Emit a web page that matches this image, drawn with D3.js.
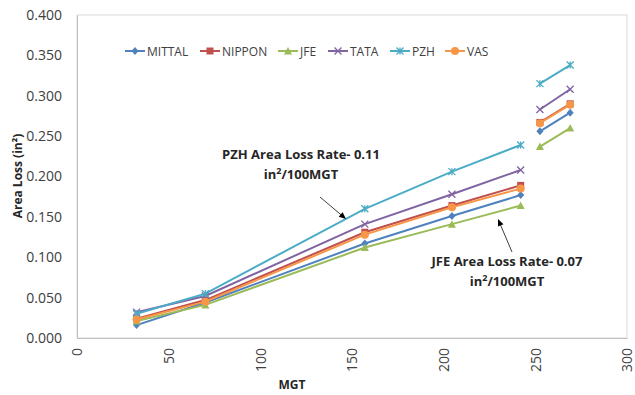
<!DOCTYPE html>
<html><head><meta charset="utf-8">
<script src="https://cdn.jsdelivr.net/npm/d3@7"></script>
<style>body{margin:0;background:#fff;}svg{display:block;font-family:"Open Sans",sans-serif;}</style>
</head><body><svg id="c" width="635" height="395"></svg>
<script>
const mgt = [32.5, 70, 157, 204.5, 242, 252.5, 269];
const breakAfter = 4;
const seriesNames = ["MITTAL","NIPPON","JFE","TATA","PZH","VAS"];
const mittal = [0.016, 0.044, 0.117, 0.151, 0.177, 0.256, 0.279];
const nippon = [0.024, 0.047, 0.131, 0.164, 0.189, 0.267, 0.290];
const jfe    = [0.021, 0.041, 0.112, 0.141, 0.164, 0.237, 0.260];
const tata   = [0.032, 0.052, 0.141, 0.178, 0.208, 0.283, 0.308];
const pzh    = [0.030, 0.055, 0.160, 0.206, 0.239, 0.315, 0.338];
const vas    = [0.023, 0.045, 0.128, 0.162, 0.185, 0.266, 0.289];
const xTicks = [0, 50, 100, 150, 200, 250, 300];
const yTicks = [0, 0.05, 0.10, 0.15, 0.20, 0.25, 0.30, 0.35, 0.40];

const values = [mittal, nippon, jfe, tata, pzh, vas];
const colors = ["#4F81BD","#C0504D","#9BBB59","#8064A2","#4BACC6","#F79646"];
const shapes = ["diamond","square","triangle","x","star","circle"];

const svg = d3.select("#c");
const L = 77, R = 627, T = 15, B = 338;
const x = d3.scaleLinear().domain([0, 300]).range([L, R]);
const y = d3.scaleLinear().domain([0, 0.4]).range([B, T]);

// plot frame
svg.append("rect").attr("x", L).attr("y", T).attr("width", R - L).attr("height", B - T)
  .attr("fill", "none").attr("stroke", "#d9d9d9").attr("stroke-width", 1);

// axes
const yAxis = svg.append("g").attr("transform", `translate(${L},0)`)
  .call(d3.axisLeft(y).tickValues(yTicks).tickFormat(d3.format(".3f")).tickSize(0).tickPadding(15));
yAxis.select(".domain").attr("stroke", "#bfbfbf");
yAxis.selectAll("text").attr("font-size", 14).attr("fill", "#404040").attr("font-family", "Open Sans");

const xAxis = svg.append("g").attr("transform", `translate(0,${B})`)
  .call(d3.axisBottom(x).tickValues(xTicks).tickFormat(d3.format("d")).tickSize(0));
xAxis.select(".domain").attr("stroke", "#bfbfbf");
xAxis.selectAll("text").attr("font-size", 14).attr("fill", "#404040").attr("font-family", "Open Sans")
  .attr("transform", "rotate(-90)").attr("text-anchor", "end").attr("x", -10).attr("y", 0).attr("dy", "0.35em");

// axis titles
svg.append("text").attr("transform", "translate(22,176) rotate(-90)").attr("text-anchor", "middle")
  .attr("font-size", 12).attr("font-weight", "bold").attr("fill", "#262626")
  .text("Area Loss (in²)");
svg.append("text").attr("x", 292).attr("y", 389).attr("text-anchor", "middle")
  .attr("font-size", 12).attr("font-weight", "bold").attr("fill", "#262626").text("MGT");

function marker(g, shape, color, cx, cy) {
  const s = 3.5;
  if (shape === "diamond") g.append("path").attr("d", `M${cx},${cy-s-0.5}L${cx+s},${cy}L${cx},${cy+s+0.5}L${cx-s},${cy}Z`).attr("fill", color);
  else if (shape === "square") g.append("rect").attr("x", cx-s).attr("y", cy-s).attr("width", 2*s).attr("height", 2*s).attr("fill", color);
  else if (shape === "triangle") g.append("path").attr("d", `M${cx},${cy-s-0.5}L${cx+s+0.5},${cy+s}L${cx-s-0.5},${cy+s}Z`).attr("fill", color);
  else if (shape === "x") g.append("path").attr("d", `M${cx-s},${cy-s}L${cx+s},${cy+s}M${cx-s},${cy+s}L${cx+s},${cy-s}`).attr("stroke", color).attr("stroke-width", 1.3).attr("fill", "none");
  else if (shape === "star") g.append("path").attr("d", `M${cx-s},${cy-s}L${cx+s},${cy+s}M${cx-s},${cy+s}L${cx+s},${cy-s}M${cx},${cy-s}L${cx},${cy+s}`).attr("stroke", color).attr("stroke-width", 1.3).attr("fill", "none");
  else if (shape === "circle") g.append("circle").attr("cx", cx).attr("cy", cy).attr("r", s+0.5).attr("fill", color);
}

const line = d3.line().x(d => x(d[0])).y(d => y(d[1]));
values.forEach((vals, i) => {
  const g = svg.append("g");
  const pts = mgt.map((m, j) => [m, vals[j]]);
  g.append("path").attr("d", line(pts.slice(0, breakAfter + 1))).attr("fill", "none").attr("stroke", colors[i]).attr("stroke-width", 2);
  g.append("path").attr("d", line(pts.slice(breakAfter + 1))).attr("fill", "none").attr("stroke", colors[i]).attr("stroke-width", 2);
  pts.forEach(p => marker(g, shapes[i], colors[i], x(p[0]), y(p[1])));
});

// legend
const legX = [125, 200, 278, 328, 390, 445];
seriesNames.forEach((n, i) => {
  const g = svg.append("g");
  g.append("line").attr("x1", legX[i]).attr("x2", legX[i] + 20).attr("y1", 51).attr("y2", 51)
    .attr("stroke", colors[i]).attr("stroke-width", 2);
  marker(g, shapes[i], colors[i], legX[i] + 10, 51);
  g.append("text").attr("x", legX[i] + 22).attr("y", 55.5).attr("font-size", 12).attr("fill", "#404040").text(n);
});

// annotations
function annot(cx, y1, l1, y2, ax1, ay1, ax2, ay2) {
  svg.append("text").attr("x", cx).attr("y", y1).attr("text-anchor", "middle").attr("font-size", 13)
    .attr("font-weight", "bold").attr("fill", "#262626").text(l1);
  const t = svg.append("text").attr("x", cx).attr("y", y2).attr("text-anchor", "middle").attr("font-size", 13)
    .attr("font-weight", "bold").attr("fill", "#262626");
  t.append("tspan").text("in");
  t.append("tspan").attr("dy", -5).attr("font-size", 9).text("2");
  t.append("tspan").attr("dy", 5).text("/100MGT");
  const ang = Math.atan2(ay2 - ay1, ax2 - ax1);
  svg.append("line").attr("x1", ax1).attr("y1", ay1).attr("x2", ax2 - 5 * Math.cos(ang)).attr("y2", ay2 - 5 * Math.sin(ang))
    .attr("stroke", "#404040").attr("stroke-width", 1);
  const hl = 7, hw = 3;
  const bx = ax2 - hl * Math.cos(ang), by = ay2 - hl * Math.sin(ang);
  svg.append("path").attr("d", `M${ax2},${ay2}L${bx + hw * Math.sin(ang)},${by - hw * Math.cos(ang)}L${bx - hw * Math.sin(ang)},${by + hw * Math.cos(ang)}Z`)
    .attr("fill", "#000");
}
annot(301, 159, "PZH Area Loss Rate- 0.11", 179, 320, 197, 346, 219);
annot(507, 266, "JFE Area Loss Rate- 0.07", 286, 512, 252, 498, 219);
</script></body></html>
